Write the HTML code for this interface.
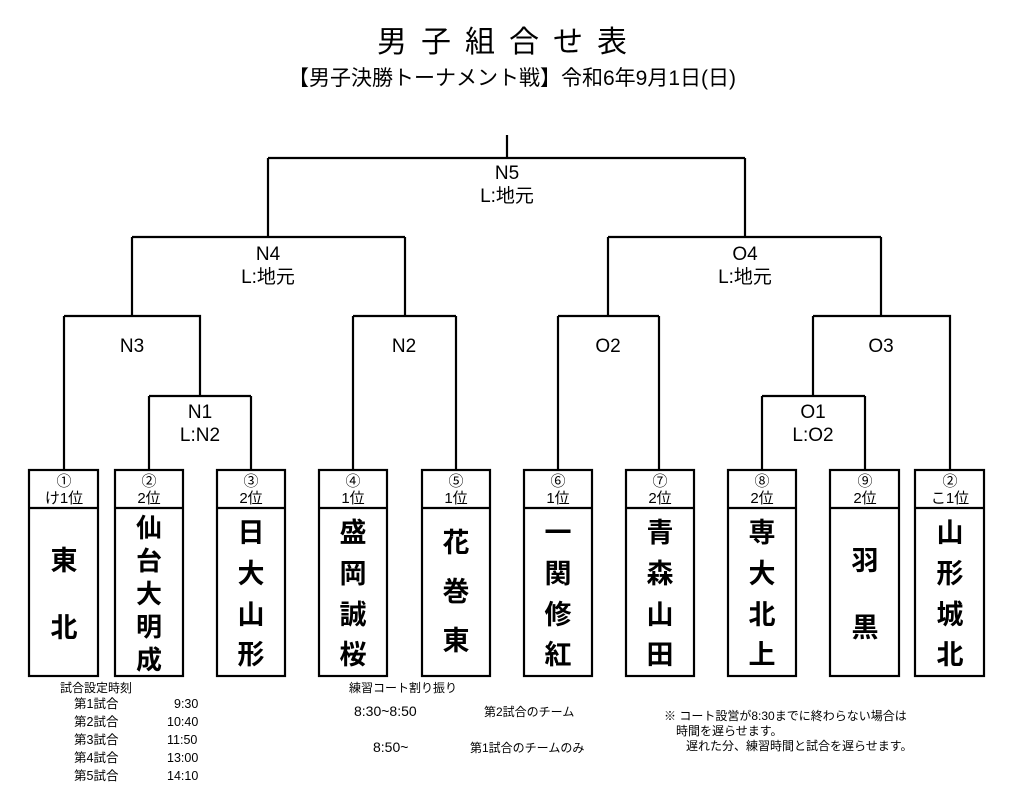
<!DOCTYPE html>
<html><head><meta charset="utf-8"><style>
html,body{margin:0;padding:0;background:#fff;}
svg{display:block;}
text{font-family:"Liberation Sans","Noto Sans CJK JP",sans-serif;fill:#000;}
</style></head><body>
<svg width="1024" height="812" viewBox="0 0 1024 812" xmlns="http://www.w3.org/2000/svg">
<text x="509" y="52" font-size="30" text-anchor="middle" letter-spacing="14">男子組合せ表</text>
<text x="512" y="85" font-size="21" text-anchor="middle" font-family="Noto Sans CJK JP, sans-serif">【男子決勝トーナメント戦】令和6年9月1日(日)</text>
<g stroke="#000" stroke-width="2.2" fill="none">
<path d="M507 135V158M268 158H745M268 158V237M745 158V237"/>
<path d="M132 237H405M132 237V316M405 237V316"/>
<path d="M608 237H881M608 237V316M881 237V316"/>
<path d="M64 316H200V396M64 316V470"/>
<path d="M149 396H251M149 396V470M251 396V470"/>
<path d="M353 316H456M353 316V470M456 316V470"/>
<path d="M558 316H659M558 316V470M659 316V470"/>
<path d="M813 316H950V470M813 316V396"/>
<path d="M762 396H865M762 396V470M865 396V470"/>
</g>
<g font-size="19" text-anchor="middle">
<text x="507" y="179">N5</text><text x="507" y="202">L:地元</text>
<text x="268" y="260">N4</text><text x="268" y="283">L:地元</text>
<text x="745" y="260">O4</text><text x="745" y="283">L:地元</text>
<text x="132" y="352">N3</text><text x="404" y="352">N2</text>
<text x="608" y="352">O2</text><text x="881" y="352">O3</text>
<text x="200" y="418">N1</text><text x="200" y="441">L:N2</text>
<text x="813" y="418">O1</text><text x="813" y="441">L:O2</text>
</g>
<g stroke="#000" stroke-width="2.2" fill="#fff">
<rect x="29" y="470" width="69" height="206"/><line x1="29" y1="508" x2="98" y2="508"/>
<rect x="115" y="470" width="68" height="206"/><line x1="115" y1="508" x2="183" y2="508"/>
<rect x="217" y="470" width="68" height="206"/><line x1="217" y1="508" x2="285" y2="508"/>
<rect x="319" y="470" width="68" height="206"/><line x1="319" y1="508" x2="387" y2="508"/>
<rect x="422" y="470" width="68" height="206"/><line x1="422" y1="508" x2="490" y2="508"/>
<rect x="524" y="470" width="68" height="206"/><line x1="524" y1="508" x2="592" y2="508"/>
<rect x="626" y="470" width="68" height="206"/><line x1="626" y1="508" x2="694" y2="508"/>
<rect x="728" y="470" width="68" height="206"/><line x1="728" y1="508" x2="796" y2="508"/>
<rect x="830" y="470" width="69" height="206"/><line x1="830" y1="508" x2="899" y2="508"/>
<rect x="915" y="470" width="69" height="206"/><line x1="915" y1="508" x2="984" y2="508"/>
</g>
<g font-size="15" text-anchor="middle">
<text x="64" y="486">①</text><text x="64" y="503">け1位</text>
<text x="149" y="486">②</text><text x="149" y="503">2位</text>
<text x="251" y="486">③</text><text x="251" y="503">2位</text>
<text x="353" y="486">④</text><text x="353" y="503">1位</text>
<text x="456" y="486">⑤</text><text x="456" y="503">1位</text>
<text x="558" y="486">⑥</text><text x="558" y="503">1位</text>
<text x="660" y="486">⑦</text><text x="660" y="503">2位</text>
<text x="762" y="486">⑧</text><text x="762" y="503">2位</text>
<text x="865" y="486">⑨</text><text x="865" y="503">2位</text>
<text x="950" y="486">②</text><text x="950" y="503">こ1位</text>
</g>
<g font-size="27" font-weight="bold" text-anchor="middle">
<text x="64" y="570">東</text><text x="64" y="637">北</text>
<g font-size="26"><text x="149" y="537">仙</text><text x="149" y="570">台</text><text x="149" y="603">大</text><text x="149" y="636">明</text><text x="149" y="669">成</text></g>
<text x="251" y="542">日</text><text x="251" y="583">大</text><text x="251" y="624">山</text><text x="251" y="664">形</text>
<text x="353" y="542">盛</text><text x="353" y="583">岡</text><text x="353" y="624">誠</text><text x="353" y="664">桜</text>
<text x="456" y="552">花</text><text x="456" y="601">巻</text><text x="456" y="650">東</text>
<text x="558" y="542">一</text><text x="558" y="583">関</text><text x="558" y="624">修</text><text x="558" y="664">紅</text>
<text x="660" y="542">青</text><text x="660" y="583">森</text><text x="660" y="624">山</text><text x="660" y="664">田</text>
<text x="762" y="542">専</text><text x="762" y="583">大</text><text x="762" y="624">北</text><text x="762" y="664">上</text>
<text x="865" y="570">羽</text><text x="865" y="637">黒</text>
<text x="950" y="542">山</text><text x="950" y="583">形</text><text x="950" y="624">城</text><text x="950" y="664">北</text>
</g>
<text x="60" y="692" font-size="12">試合設定時刻</text>
<g font-size="12.5">
<text x="74" y="708">第1試合</text><text x="174" y="708">9:30</text>
<text x="74" y="726">第2試合</text><text x="167" y="726">10:40</text>
<text x="74" y="744">第3試合</text><text x="167" y="744">11:50</text>
<text x="74" y="762">第4試合</text><text x="167" y="762">13:00</text>
<text x="74" y="780">第5試合</text><text x="167" y="780">14:10</text>
</g>
<text x="349" y="692" font-size="12">練習コート割り振り</text>
<text x="354" y="716" font-size="14">8:30~8:50</text>
<text x="484" y="716" font-size="12">第2試合のチーム</text>
<text x="373" y="752" font-size="14">8:50~</text>
<text x="470" y="752" font-size="12">第1試合のチームのみ</text>
<text x="664" y="720" font-size="12">※  コート設営が8:30までに終わらない場合は</text>
<text x="676" y="735" font-size="12">時間を遅らせます。</text>
<text x="686" y="750" font-size="12">遅れた分、練習時間と試合を遅らせます。</text>
</svg>
</body></html>
